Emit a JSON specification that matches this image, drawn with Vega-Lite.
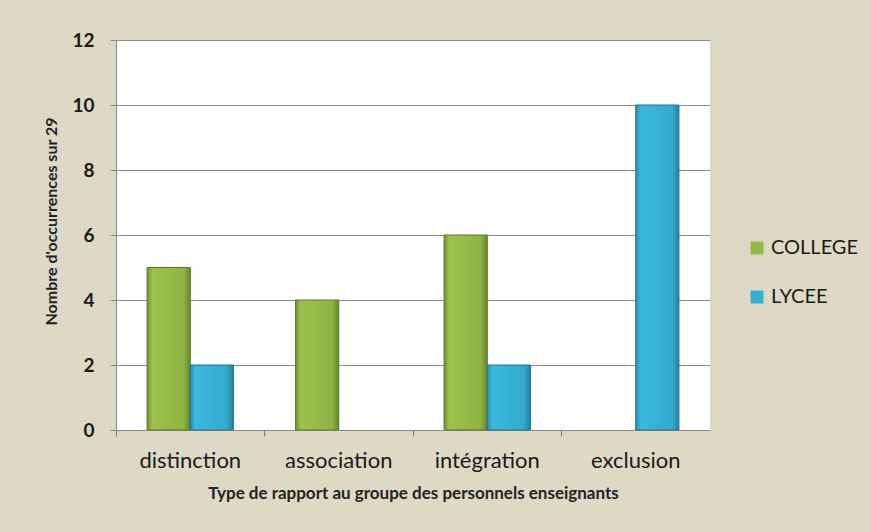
{
  "$schema": "https://vega.github.io/schema/vega-lite/v6.json",
  "autosize": "none",
  "width": 594,
  "height": 390,
  "padding": {"left": 116, "top": 40, "right": 161, "bottom": 102},
  "background": "#ddd9c4",
  "config": {
    "font": "Lato",
    "view": {"fill": "white", "stroke": null}
  },
  "data": {
    "values": [
      {"type": "distinction", "niveau": "COLLEGE", "n": 5},
      {"type": "distinction", "niveau": "LYCEE", "n": 2},
      {"type": "association", "niveau": "COLLEGE", "n": 4},
      {"type": "intégration", "niveau": "COLLEGE", "n": 6},
      {"type": "intégration", "niveau": "LYCEE", "n": 2},
      {"type": "exclusion", "niveau": "LYCEE", "n": 10}
    ]
  },
  "encoding": {
    "x": {
      "field": "type",
      "type": "nominal",
      "sort": ["distinction", "association", "intégration", "exclusion"],
      "scale": {"paddingInner": 0, "paddingOuter": 0},
      "axis": {
        "title": "Type de rapport au groupe des personnels enseignants",
        "titleFontSize": 17,
        "titleFontWeight": "bold",
        "titleColor": "#222",
        "titlePadding": 14,
        "labelAngle": 0,
        "labelFontSize": 22,
        "labelColor": "#1a1a1a",
        "labelPadding": 14,
        "bandPosition": 0,
        "tickExtra": true,
        "tickSize": 6,
        "tickColor": "#777",
        "domainColor": "#888",
        "grid": false
      }
    },
    "xOffset": {
      "field": "niveau",
      "type": "nominal",
      "scale": {"domain": ["COLLEGE", "LYCEE"], "paddingInner": 0, "paddingOuter": 0.72}
    },
    "y": {
      "field": "n",
      "type": "quantitative",
      "scale": {"domain": [0, 12], "nice": false},
      "axis": {
        "title": "Nombre d'occurrences sur 29",
        "titleFontSize": 16,
        "titleFontWeight": "bold",
        "titleColor": "#222",
        "titlePadding": 12,
        "titleY": 181,
        "values": [0, 2, 4, 6, 8, 10, 12],
        "labelFontSize": 19,
        "labelFontWeight": "bold",
        "labelColor": "#1a1a1a",
        "labelPadding": 16,
        "tickSize": 6,
        "tickColor": "#888",
        "domainColor": "#888",
        "gridColor": "#8c8c8c",
        "gridWidth": 1
      }
    }
  },
  "layer": [
    {
      "mark": {"type": "bar"},
      "encoding": {
        "color": {
          "field": "niveau",
          "type": "nominal",
          "scale": {"domain": ["COLLEGE", "LYCEE"], "range": ["#93bb45", "#36aed2"]},
          "legend": {
            "title": null,
            "orient": "none",
            "legendX": 631,
            "legendY": 198,
            "symbolType": "square",
            "symbolSize": 169,
            "symbolStrokeWidth": 0,
            "labelFontSize": 20,
            "labelColor": "#1a1a1a",
            "rowPadding": 29,
            "labelOffset": 4,
            "padding": 0
          }
        }
      }
    },
    {
      "transform": [{"filter": "datum.niveau === 'COLLEGE'"}],
      "mark": {
        "type": "bar",
        "stroke": "#5d7a28",
        "strokeWidth": 1,
        "fill": {
          "gradient": "linear", "x1": 0, "y1": 0, "x2": 1, "y2": 0,
          "stops": [
            {"offset": 0, "color": "#6f9030"},
            {"offset": 0.12, "color": "#9cc44c"},
            {"offset": 0.85, "color": "#8db443"},
            {"offset": 1, "color": "#66862a"}
          ]
        }
      }
    },
    {
      "transform": [{"filter": "datum.niveau === 'LYCEE'"}],
      "mark": {
        "type": "bar",
        "stroke": "#22738c",
        "strokeWidth": 1,
        "fill": {
          "gradient": "linear", "x1": 0, "y1": 0, "x2": 1, "y2": 0,
          "stops": [
            {"offset": 0, "color": "#2a8eae"},
            {"offset": 0.12, "color": "#3cb9de"},
            {"offset": 0.85, "color": "#33a9cd"},
            {"offset": 1, "color": "#24809e"}
          ]
        }
      }
    }
  ]
}
